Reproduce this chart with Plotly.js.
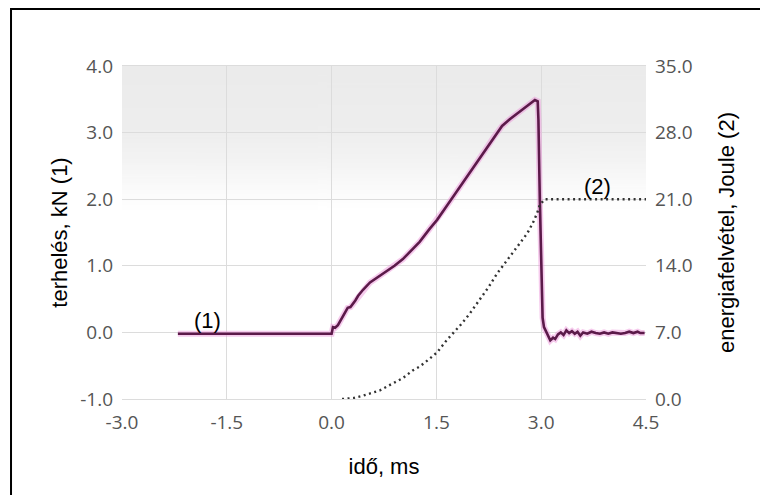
<!DOCTYPE html>
<html>
<head>
<meta charset="utf-8">
<script src="https://cdn.plot.ly/plotly-3.0.1.min.js"></script>
<style>html,body{margin:0;padding:0;background:#fff;}#chart{width:760px;height:495px;}</style>
</head>
<body>
<div id="chart"></div>
<script>
// Load curve (1): time in ms, load in kN
const loadTime = [-2.2, 0.00, 0.02, 0.05, 0.09, 0.13, 0.16, 0.20, 0.23, 0.27, 0.30, 0.34, 0.38, 0.45, 0.55, 0.65, 0.79, 0.90, 1.02, 1.15, 1.26, 1.40, 1.51, 1.65, 1.80, 1.88, 2.02, 2.20, 2.32, 2.44, 2.55, 2.65, 2.75, 2.84, 2.91, 2.95, 2.96, 2.98, 3.00, 3.02, 3.04, 3.07, 3.10, 3.13, 3.17, 3.20, 3.24, 3.28, 3.32, 3.36, 3.40, 3.44, 3.48, 3.52, 3.56, 3.60, 3.66, 3.72, 3.78, 3.84, 3.90, 3.96, 4.02, 4.08, 4.14, 4.20, 4.26, 4.32, 4.38, 4.42, 4.48];
const loadKN   = [-0.02, -0.02, 0.08, 0.07, 0.11, 0.18, 0.25, 0.32, 0.37, 0.38, 0.42, 0.48, 0.55, 0.64, 0.75, 0.82, 0.92, 1.00, 1.10, 1.24, 1.36, 1.55, 1.69, 1.90, 2.13, 2.26, 2.46, 2.74, 2.93, 3.10, 3.20, 3.28, 3.36, 3.44, 3.49, 3.47, 3.20, 2.00, 1.00, 0.22, 0.08, 0.01, -0.06, -0.12, -0.08, -0.10, -0.03, 0.00, -0.04, 0.03, -0.01, 0.02, -0.02, 0.01, -0.05, 0.00, -0.02, 0.01, -0.01, -0.02, 0.00, -0.02, 0.00, -0.01, -0.02, -0.01, 0.01, -0.01, 0.01, -0.01, -0.01];

// Energy curve (2): time in ms, energy in Joule
const energyTime  = [0.15, 0.31, 0.45, 0.55, 0.69, 0.79, 0.90, 1.02, 1.16, 1.26, 1.38, 1.51, 1.65, 1.74, 1.86, 1.98, 2.12, 2.25, 2.37, 2.50, 2.60, 2.70, 2.80, 2.88, 2.94, 2.98, 3.05, 4.50];
const energyJoule = [0.0, 0.1, 0.35, 0.6, 0.9, 1.3, 1.7, 2.2, 3.0, 3.4, 4.1, 4.9, 6.2, 6.9, 7.9, 9.0, 10.4, 11.8, 13.2, 14.5, 15.5, 16.5, 17.4, 18.5, 19.5, 20.4, 21.0, 21.0];

// Tick labels
const xTickVals = [-3.0, -1.5, 0.0, 1.5, 3.0, 4.5];
const xTickText = ["-3.0", "-1.5", "0.0", "1.5", "3.0", "4.5"];
const yTickVals = [-1, 0, 1, 2, 3, 4];
const yTickText = ["-1.0", "0.0", "1.0", "2.0", "3.0", "4.0"];
const y2TickVals = [0, 7, 14, 21, 28, 35];
const y2TickText = ["0.0", "7.0", "14.0", "21.0", "28.0", "35.0"];

// Text
const xTitle = "idő, ms";
const yTitle = "terhelés, kN (1)";
const y2Title = "energiafelvétel, Joule (2)";
const label1 = {text: "(1)", x: -1.78, y: 0.18};
const label2 = {text: "(2)", x: 3.80, y: 22.3};

// background gradient image for the plot area
function gradientURL() {
  const c = document.createElement('canvas');
  c.width = 4; c.height = 300;
  const g = c.getContext('2d');
  const gr = g.createLinearGradient(0, 0, 0, 300);
  gr.addColorStop(0.0, '#ebebeb');
  gr.addColorStop(0.20, '#eeeeee');
  gr.addColorStop(0.28, '#f3f3f3');
  gr.addColorStop(0.36, '#fafafa');
  gr.addColorStop(0.43, '#ffffff');
  gr.addColorStop(1.0, '#ffffff');
  g.fillStyle = gr; g.fillRect(0, 0, 4, 300);
  return c.toDataURL('image/png');
}

const tickFont = {family: '"Open Sans", sans-serif', size: 19, color: '#555555'};
const textFont = {family: '"Liberation Sans", Arial, sans-serif', size: 22, color: '#000000'};

const traces = [
  {x: loadTime, y: loadKN, type: 'scatter', mode: 'lines', yaxis: 'y', hoverinfo: 'skip',
   line: {color: 'rgba(236,140,215,0.45)', width: 6}, showlegend: false},
  {x: loadTime, y: loadKN, type: 'scatter', mode: 'lines', yaxis: 'y',
   line: {color: '#5c1a4a', width: 2.6}, showlegend: false},
  {x: energyTime, y: energyJoule, type: 'scatter', mode: 'lines', yaxis: 'y2',
   line: {color: '#333333', width: 2.4, dash: '2px,3.5px'}, showlegend: false}
];

const layout = {
  width: 760, height: 495,
  margin: {l: 122, r: 114, t: 66, b: 96, pad: 0},
  paper_bgcolor: '#ffffff',
  plot_bgcolor: 'rgba(0,0,0,0)',
  showlegend: false,
  xaxis: {
    range: [-3, 4.5], tickvals: xTickVals, ticktext: xTickText,
    tickfont: tickFont, showgrid: true, gridcolor: '#dcdcdc', gridwidth: 1,
    zeroline: false, showline: true, linecolor: '#dcdcdc', linewidth: 1, mirror: true,
    ticks: '', ticklabelstandoff: 6,
    title: {text: xTitle, font: textFont, standoff: 24}
  },
  yaxis: {
    range: [-1, 4], tickvals: yTickVals, ticktext: yTickText,
    tickfont: tickFont, showgrid: true, gridcolor: '#dcdcdc', gridwidth: 1,
    zeroline: false, showline: false, ticks: '', ticklabelstandoff: 8,
    title: {text: yTitle, font: textFont, standoff: 6}
  },
  yaxis2: {
    range: [0, 35], tickvals: y2TickVals, ticktext: y2TickText, overlaying: 'y', side: 'right',
    tickfont: tickFont, showgrid: false, zeroline: false, showline: false, ticks: '', ticklabelstandoff: 8,
    title: {text: y2Title, font: textFont, standoff: 27}
  },
  images: [{source: gradientURL(), xref: 'paper', yref: 'paper', x: 0, y: 1, sizex: 1, sizey: 1,
            sizing: 'stretch', layer: 'below'}],
  annotations: [
    {x: label1.x, y: label1.y, xref: 'x', yref: 'y', text: label1.text, showarrow: false, font: textFont},
    {x: label2.x, y: label2.y, xref: 'x', yref: 'y2', text: label2.text, showarrow: false, font: textFont}
  ],
  shapes: [
    {type: 'rect', xref: 'paper', yref: 'paper', x0: -0.2118, x1: 1.3, y0: -0.4, y1: 1.1712,
     line: {color: '#000000', width: 2}, fillcolor: 'rgba(0,0,0,0)', layer: 'above'}
  ]
};

Plotly.newPlot('chart', traces, layout, {staticPlot: true, displayModeBar: false});
</script>
</body>
</html>
